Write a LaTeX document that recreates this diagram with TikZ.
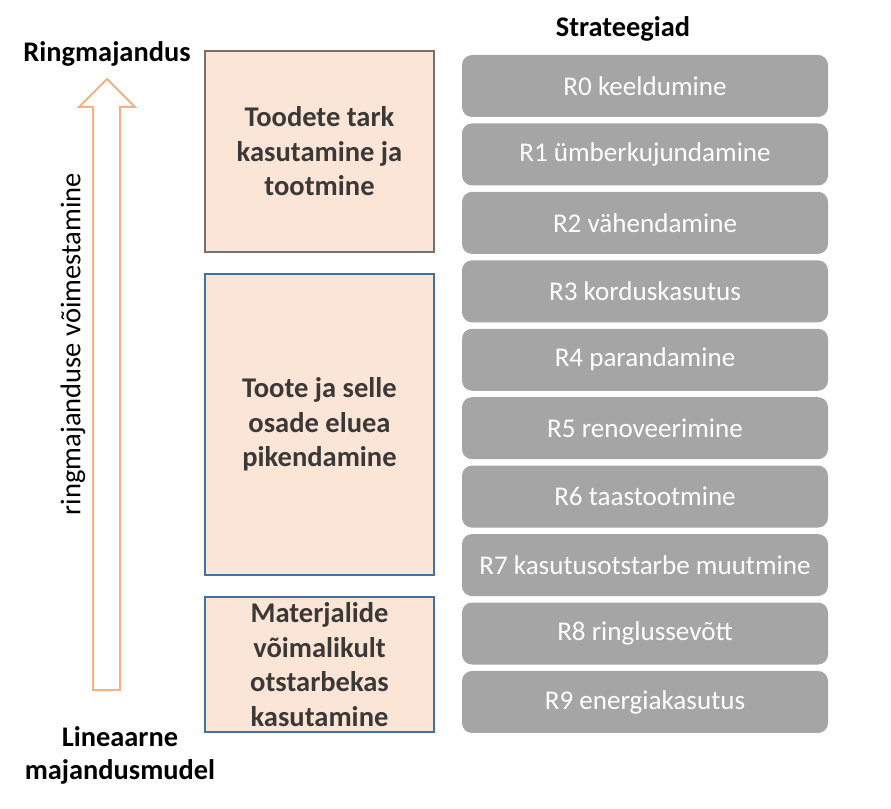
\documentclass[tikz,border=0pt]{standalone}
\usepackage{fontspec}
\setmainfont{Carlito}
\definecolor{peach}{HTML}{FBE5D6}
\definecolor{edgegray}{HTML}{767171}
\definecolor{edgeblue}{HTML}{41719C}
\definecolor{stratgray}{HTML}{A5A5A5}
\definecolor{darktext}{HTML}{3B3838}
\definecolor{arroworange}{HTML}{F4B183}
\begin{document}
\begin{tikzpicture}[x=0.75pt, y=-0.75pt,
    stage/.style={draw=edgeblue, fill=peach, line width=1.5pt, text=darktext, align=center,
      inner sep=0pt, minimum width=171.75pt, font=\fontsize{21.4}{25.9}\selectfont\bfseries},
    strat/.style={fill=stratgray, rounded corners=7.5pt, minimum width=274.5pt,
      minimum height=46.5pt, text=white, font=\fontsize{20.3}{24}\selectfont},
    heading/.style={align=center, font=\fontsize{21.3}{24.75}\selectfont\bfseries},
    arrowline/.style={draw=arroworange, line width=1.5pt, line join=miter}]
  \useasboundingbox (0,0) rectangle (891,809);
  % ends of the scale
  \node[heading] (circ) at (107,54) {Ringmajandus};
  \node[heading] (lin) at (120,755) {Lineaarne\\majandusmudel};
  \node[heading] (strattitle) at (623,29) {Strateegiad};
  % hollow arrow
  \draw[arrowline] (93,690) -- (93,107) -- (79,107) -- (107,79) -- (135,107)
    -- (120,107) -- (120,690) -- cycle;
  \node[rotate=90, font=\fontsize{21.4}{25}\selectfont] (lift) at (73,344)
    {ringmajanduse võimestamine};
  % groups
  \node[stage, draw=edgegray, minimum height=150.75pt] (smart) at (319.5,151.5)
    {Toodete tark\\kasutamine ja\\tootmine};
  \node[stage, minimum height=225.75pt] (life) at (319.5,424.5)
    {Toote ja selle\\osade eluea\\pikendamine};
  \node[stage, minimum height=101.25pt] (mat) at (319.5,664.5)
    {Materjalide\\võimalikult\\otstarbekas\\kasutamine};
  % strategies
  \foreach \i/\txt in {0/keeldumine, 1/ümberkujundamine, 2/vähendamine,
      3/korduskasutus, 4/parandamine, 5/renoveerimine, 6/taastootmine,
      7/kasutusotstarbe muutmine, 8/ringlussevõtt, 9/energiakasutus}
    \node[strat] (r\i) at (645,86+68.44*\i) {R\i{} \txt};
\end{tikzpicture}
\end{document}
